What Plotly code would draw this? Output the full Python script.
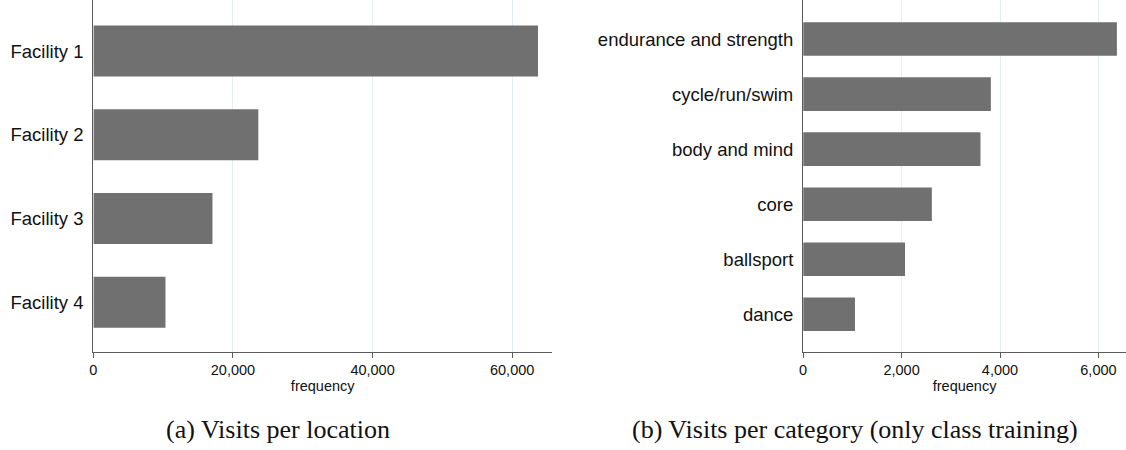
import plotly.graph_objects as go

# ---- data ----
facilities = ["Facility 1", "Facility 2", "Facility 3", "Facility 4"]
facility_visits = [63700, 23630, 17060, 10330]

categories = ["endurance and strength", "cycle/run/swim", "body and mind",
              "core", "ballsport", "dance"]
category_visits = [6375, 3814, 3603, 2615, 2070, 1053]

left_ticks = [0, 20000, 40000, 60000]
left_ticklabels = ["0", "20,000", "40,000", "60,000"]
right_ticks = [0, 2000, 4000, 6000]
right_ticklabels = ["0", "2,000", "4,000", "6,000"]

caption_a = "(a) Visits per location"
caption_b = "(b) Visits per category (only class training)"
x_title = "frequency"

# ---- style ----
BAR = "#707070"
AXIS = "#5c5c5c"
GRID = "#e5eef0"
SANS = "Liberation Sans, Arial, sans-serif"
SERIF = "Liberation Serif, Times New Roman, serif"

W, H = 1126, 450

fig = go.Figure()
fig.add_trace(go.Bar(x=facility_visits, y=facilities, orientation="h",
                     marker=dict(color=BAR, line=dict(width=0)), width=0.61,
                     xaxis="x", yaxis="y", showlegend=False))
fig.add_trace(go.Bar(x=category_visits, y=categories, orientation="h",
                     marker=dict(color=BAR, line=dict(width=0)), width=0.61,
                     xaxis="x2", yaxis="y2", showlegend=False))

ybot = 351.7
ydom = [(H - ybot) / H, 1.0]

def xaxis_common(ticks, labels, rng, dom, anchor):
    return dict(domain=dom, range=rng, anchor=anchor,
                tickvals=ticks, ticktext=labels, ticks="outside", ticklen=5,
                tickwidth=1, tickcolor=AXIS,
                showline=True, linecolor=AXIS, linewidth=1.3,
                showgrid=True, gridcolor=GRID, gridwidth=1,
                zeroline=False,
                tickfont=dict(family=SANS, size=14.5, color="#111"),
                title=dict(text=x_title, font=dict(family=SANS, size=14.5, color="#111"),
                           standoff=0))

def yaxis_common(cats, rng, dom, anchor):
    return dict(domain=dom, range=rng, anchor=anchor, type="category",
                categoryorder="array", categoryarray=cats,
                showline=True, linecolor=AXIS, linewidth=1.3,
                showgrid=False, zeroline=False, ticks="",
                ticklabelstandoff=5,
                tickfont=dict(family=SANS, size=18.5, color="#111"))

left_dom = [89.7 / W, 550 / W]
right_dom = [802 / W, 1.0]

fig.update_layout(
    width=W, height=H,
    margin=dict(l=0, r=0, t=0, b=0),
    paper_bgcolor="white", plot_bgcolor="white",
    bargap=0.39,
    xaxis=xaxis_common(left_ticks, left_ticklabels, [0, 65714], left_dom, "y"),
    yaxis=yaxis_common(facilities, [3.59, -0.61], ydom, "x"),
    xaxis2=xaxis_common(right_ticks, right_ticklabels, [0, 6560], right_dom, "y2"),
    yaxis2=yaxis_common(categories, [5.68, -0.71], ydom, "x2"),
    annotations=[
        dict(text=caption_a, x=275 / W, y=(H - 429) / H, xref="paper", yref="paper",
             xanchor="center", yanchor="middle", showarrow=False,
             font=dict(family=SERIF, size=26, color="#111")),
        dict(text=caption_b, x=854.5 / W, y=(H - 429) / H, xref="paper", yref="paper",
             xanchor="center", yanchor="middle", showarrow=False,
             font=dict(family=SERIF, size=26, color="#111")),
    ],
)

fig.write_html("out.html",
               config={"displayModeBar": False},
               post_script="document.body.style.margin='0px';document.body.style.overflow='hidden';")
